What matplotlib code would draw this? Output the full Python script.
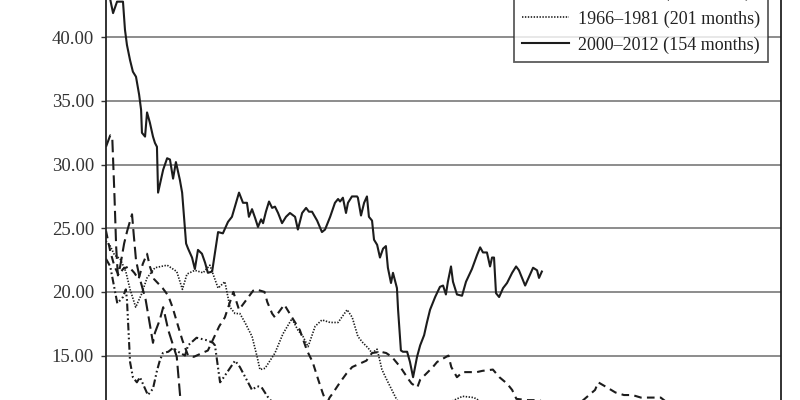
import matplotlib
matplotlib.use("Agg")
import matplotlib.pyplot as plt

plt.rcParams['font.family'] = ['Liberation Serif', 'DejaVu Serif']
plt.rcParams['lines.scale_dashes'] = False

# ---- data (months since start, P/E value) ----
m_2000 = [0, 1, 2.5, 3.9, 6.0, 6.7, 7.4, 8.5, 9.5, 10.6, 11.7, 12.4, 12.7, 13.8, 14.5, 15.5,
          16.6, 17.3, 18.0, 18.4, 20.2, 21.6, 22.6, 23.7, 24.7, 26.1, 26.9, 28.3, 29.0, 30.4,
          31.4, 32.5, 33.9, 35.0, 36.0, 37.5, 38.5, 39.6, 41.3, 43.1, 44.5, 47.0, 48.4, 49.8,
          50.5, 51.6, 52.7, 53.7, 54.8, 55.5, 56.5, 57.6, 58.7, 59.7, 60.8, 62.2, 63.6, 65.0,
          66.8, 67.8, 69.3, 70.7, 71.7, 72.8, 74.6, 76.3, 77.4, 79.2, 80.9, 82.0, 82.7, 83.7,
          84.8, 85.5, 86.9, 88.7, 89.0, 90.1, 91.2, 92.2, 92.9, 94.0, 94.7, 95.8, 96.8, 97.9,
          98.9, 99.6, 100.7, 101.4, 102.8, 103.2, 104.2, 104.9, 106.4, 107.4, 108.5, 109.9,
          111.0, 112.4, 113.4, 114.5, 116.3, 118.0, 119.1, 120.1, 120.8, 121.9, 122.6, 124.0,
          125.8, 127.2, 129.3, 131.1, 132.2, 133.2, 134.6, 135.7, 136.4, 137.1, 137.8, 138.9,
          140.3, 141.7, 143.5, 144.9, 145.9, 147.0, 148.1, 149.5, 150.9, 152.3, 153.0, 154.0]
v_2000 = [44.2, 43.5, 41.9, 42.8, 42.8, 40.6, 39.4, 38.2, 37.3, 36.9, 35.5, 34.3, 32.5, 32.2,
          34.1, 33.3, 32.2, 31.7, 31.4, 27.8, 29.6, 30.5, 30.4, 28.9, 30.2, 28.8, 27.8, 23.8,
          23.4, 22.7, 21.8, 23.3, 23.0, 22.3, 21.5, 21.6, 23.1, 24.7, 24.6, 25.5, 25.9, 27.8,
          27.0, 27.0, 25.9, 26.5, 25.8, 25.1, 25.7, 25.4, 26.3, 27.1, 26.6, 26.7, 26.2, 25.4,
          25.9, 26.2, 25.9, 24.9, 26.2, 26.6, 26.3, 26.3, 25.6, 24.7, 24.9, 25.9, 27.0, 27.3,
          27.1, 27.4, 26.2, 27.0, 27.5, 27.5, 27.4, 26.0, 27.0, 27.5, 25.9, 25.6, 24.1, 23.7,
          22.7, 23.4, 23.6, 21.9, 20.7, 21.5, 20.3, 18.6, 15.4, 15.3, 15.3, 14.5, 13.3, 14.9,
          15.8, 16.6, 17.6, 18.6, 19.6, 20.4, 20.5, 19.8, 20.8, 22.0, 20.8, 19.8, 19.7, 20.8,
          21.8, 22.9, 23.5, 23.1, 23.1, 22.0, 22.7, 22.7, 19.9, 19.6, 20.3, 20.7, 21.5, 22.0,
          21.7, 21.1, 20.5, 21.2, 21.9, 21.7, 21.1, 21.6]

m_1966 = [0, 1.5, 3, 5, 7, 8.5, 10.5, 12.5, 14.5, 17.3, 21.6, 25, 27, 28.6, 31.4, 34.3, 36.7,
          39.6, 42, 43.8, 45.6, 47.3, 49.1, 51.6, 53.4, 54.4, 56.2, 59.7, 62.5, 65.7, 67.8,
          69.6, 71.4, 73.9, 76.3, 79.2, 82, 85.2, 87, 89, 90.8, 92.6, 94, 95.8, 97.5, 99.2,
          102.8, 108, 116, 122, 126, 130, 134, 145, 160, 180, 201]
v_1966 = [24.0, 23.6, 22.9, 22.6, 21.6, 20.2, 18.8, 19.8, 21.1, 21.9, 22.1, 21.6, 20.2, 21.4,
          21.7, 21.5, 22.1, 20.3, 20.8, 18.8, 18.3, 18.3, 17.6, 16.5, 14.9, 13.9, 14.0, 15.2,
          16.7, 17.9, 17.0, 16.5, 15.7, 17.3, 17.8, 17.6, 17.6, 18.6, 18.0, 16.5, 16.0, 15.6,
          15.2, 15.5, 13.9, 13.1, 11.5, 10.8, 11.0, 11.4, 11.8, 11.7, 11.2, 10.2, 9.3, 8.5, 7.6]

m_1929 = [0, 1.5, 2.2, 3.0, 3.6, 4.2, 5.0, 6.4, 7.5, 9.2, 9.8, 10.6, 12.0, 14.0, 16.6, 17.3,
          19.0, 20.2, 22.0, 25.0, 26.2, 28, 33]
v_1929 = [31.4, 32.3, 32.2, 27.5, 23.5, 21.3, 22.0, 23.8, 24.8, 26.1, 24.5, 22.5, 21.0, 19.4,
          16.0, 16.8, 17.8, 18.8, 17.0, 14.9, 11.8, 9.5, 6.0]

m_1937 = [0, 1.5, 4, 6, 7, 7.4, 8.5, 9.5, 10.9, 12, 13.8, 14.8, 16.6, 18, 19, 20.1, 22, 23.7,
          25.5, 27.9, 29, 32, 35.7, 37.8, 38.5, 40.3, 41, 45.6, 47.3, 51.6, 53.4, 55, 57, 60, 66]
v_1937 = [22.6, 22.0, 19.1, 19.6, 20.2, 19.4, 14.5, 13.3, 12.9, 13.3, 12.4, 11.9, 12.4, 13.8,
          14.6, 15.2, 15.3, 15.6, 15.3, 15.0, 15.8, 16.4, 16.2, 16.0, 15.8, 12.9, 13.1, 14.6,
          14.1, 12.3, 12.6, 12.5, 11.8, 11.0, 10.0]

m_1901 = [0, 1.5, 3, 4.5, 6, 8, 10, 11.5, 13, 14.5, 15.5, 17, 20, 22, 23.5, 25.5, 27, 29, 31,
          34, 36, 40, 42, 45, 47, 49, 52, 53, 56, 57, 58.7, 59.7, 63, 66, 68.5, 71, 73, 75,
          76.5, 78, 79, 80, 82.7, 85, 87, 92, 94, 97, 99, 101, 104, 107, 108, 110, 111, 115.5,
          117, 121, 122, 124, 126, 127.5, 131, 133, 136.7, 139, 141.7, 143.5, 145, 149, 153,
          160, 166, 172.8, 173.9, 177, 180, 183, 186, 189, 196, 200, 210, 220, 235]
v_1901 = [24.8, 23.2, 22.0, 21.3, 21.8, 22.0, 21.5, 21.0, 22.2, 23.0, 22.0, 21.0, 20.3, 19.7,
          18.8, 17.3, 16.2, 15.0, 14.9, 15.2, 15.4, 17.3, 18.0, 20.0, 18.6, 19.2, 20.1, 20.2,
          20.0, 19.2, 18.3, 18.0, 19.0, 17.9, 17.0, 15.4, 14.5, 13.1, 12.1, 11.2, 11.7, 12.0,
          12.9, 13.6, 14.1, 14.6, 15.2, 15.3, 15.2, 14.9, 14.1, 13.1, 12.8, 12.5, 13.1, 14.1,
          14.5, 15.0, 14.1, 13.3, 13.7, 13.7, 13.7, 13.8, 13.9, 13.3, 12.8, 12.3, 11.6, 11.5,
          11.5, 10.8, 11.0, 12.3, 12.9, 12.5, 12.1, 11.9, 11.9, 11.7, 11.7, 11.0, 9.5, 7.5, 5.5]

labels = ["1901–1921 (241 months)", "1929–1932 (33 months)", "1937–1942 (61 months)",
          "1966–1981 (201 months)", "2000–2012 (154 months)"]
yticks = [15, 20, 25, 30, 35, 40]

# ---- figure ----
fig = plt.figure(figsize=(8, 4), dpi=100)
ax = fig.add_axes([106 / 800, 0, 675 / 800, 1])
ax.set_xlim(0, 238.5)
ax.set_ylim(11.51, 42.93)

ink = '#1c1c1c'
ax.plot(m_1901, v_1901, color=ink, lw=1.5, dashes=[5.5, 3.8], label=labels[0])
ax.plot(m_1929, v_1929, color=ink, lw=1.5, dashes=[9, 3.8], label=labels[1])
ax.plot(m_1937, v_1937, color=ink, lw=1.5, dashes=[5.5, 2, 1.2, 2, 1.2, 2], label=labels[2])
ax.plot(m_1966, v_1966, color=ink, lw=1.2, dashes=[1.0, 1.1], label=labels[3])
ax.plot(m_2000, v_2000, color=ink, lw=1.5, label=labels[4])

ax.set_yticks(yticks)
ax.set_yticklabels([f"{t:.2f}" for t in yticks])
ax.set_xticks([])
ax.yaxis.grid(True, color='#6e6e6e', lw=1.1)
ax.set_axisbelow(True)
ax.tick_params(axis='y', direction='out', length=3.6, width=1.0, color='#333333',
               pad=5.0, labelsize=13.5, labelcolor='#333333')
for s in ['top', 'bottom']:
    ax.spines[s].set_visible(False)
for s in ['left', 'right']:
    ax.spines[s].set_color('#222222')
    ax.spines[s].set_linewidth(1.3)

leg = ax.legend(loc='lower right', bbox_to_anchor=(768 / 800, (400 - 62) / 400),
                bbox_transform=fig.transFigure, borderaxespad=0, fontsize=13, frameon=True,
                fancybox=False, handlelength=2.6, handletextpad=0.45, labelspacing=0.5,
                borderpad=0.45, edgecolor='#333333', labelcolor='#222222')
leg.get_frame().set_linewidth(1.3)

fig.savefig('out.png', dpi=100)
